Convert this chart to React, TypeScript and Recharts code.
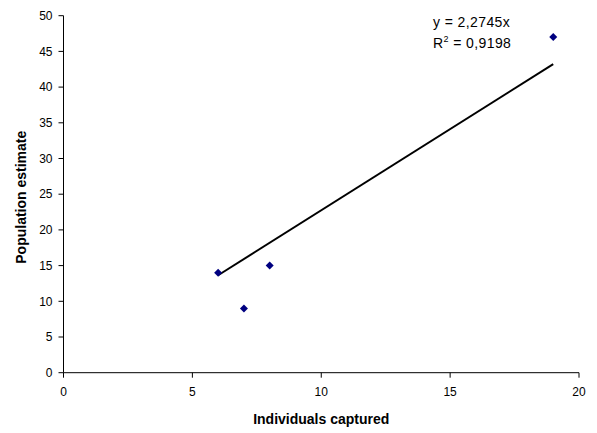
import React from "react";
import { ScatterChart, Scatter, XAxis, YAxis } from "recharts";

const capturedValues = [6, 7, 8, 19];
const estimateValues = [14, 9, 15, 47];
const trendSlope = 2.2745;
const trendXs = [6, 19];
const xTicks = [0, 5, 10, 15, 20];
const yTicks = [0, 5, 10, 15, 20, 25, 30, 35, 40, 45, 50];
const equationLine = "y = 2,2745x";
const r2Value = "0,9198";

const points = capturedValues.map((x, i) => ({ x, y: estimateValues[i] }));
const trend = trendXs.map((x) => ({ x, y: trendSlope * x }));

const FONT = "'Liberation Sans', Arial, sans-serif";

const Diamond = (props: any) => {
  const { cx, cy } = props;
  const r = 4;
  return (
    <polygon
      points={`${cx},${cy - r} ${cx + r},${cy} ${cx},${cy + r} ${cx - r},${cy}`}
      fill="#000080"
    />
  );
};

const Nothing = () => null;

export default function App() {
  return (
    <div style={{ position: "relative", width: 589, height: 425, fontFamily: FONT }}>
      <ScatterChart
        width={589}
        height={425}
        margin={{ top: 7.7, right: 18, left: 0, bottom: 0 }}
      >
        <XAxis
          type="number"
          dataKey="x"
          domain={[0, 20]}
          ticks={xTicks}
          interval={0}
          tickSize={5}
          tickMargin={10}
          height={60.3}
          axisLine={{ stroke: "#000", strokeWidth: 1 }}
          tickLine={{ stroke: "#000" }}
          tick={{ fill: "#000", fontSize: 12, fontFamily: FONT }}
          label={{
            value: "Individuals captured",
            position: "center",
            dy: 16,
            style: { fontSize: 14, fontWeight: "bold", fill: "#000", fontFamily: FONT },
          }}
        />
        <YAxis
          type="number"
          dataKey="y"
          domain={[0, 50]}
          ticks={yTicks}
          interval={0}
          width={55.5}
          tickSize={5}
          tickMargin={6}
          axisLine={{ stroke: "#000", strokeWidth: 1 }}
          tickLine={{ stroke: "#000" }}
          tick={{ fill: "#000", fontSize: 12, fontFamily: FONT }}
          label={{
            value: "Population estimate",
            angle: -90,
            position: "center",
            dx: -14.75,
            dy: 3,
            style: { fontSize: 14, fontWeight: "bold", fill: "#000", fontFamily: FONT, textAnchor: "middle" },
          }}
        />
        <Scatter
          data={trend}
          line={{ stroke: "#000", strokeWidth: 2 }}
          shape={<Nothing />}
          isAnimationActive={false}
        />
        <Scatter data={points} shape={<Diamond />} isAnimationActive={false} />
      </ScatterChart>
      <div
        style={{
          position: "absolute",
          left: 425,
          top: 4,
          fontSize: 14,
          lineHeight: "21px",
          letterSpacing: 0.4,
          color: "#000",
          fontFamily: FONT,
          whiteSpace: "nowrap",
        }}
      >
        <div>{equationLine}</div>
        <div>
          R<sup style={{ fontSize: 9, lineHeight: 0 }}>2</sup> = {r2Value}
        </div>
      </div>
    </div>
  );
}
